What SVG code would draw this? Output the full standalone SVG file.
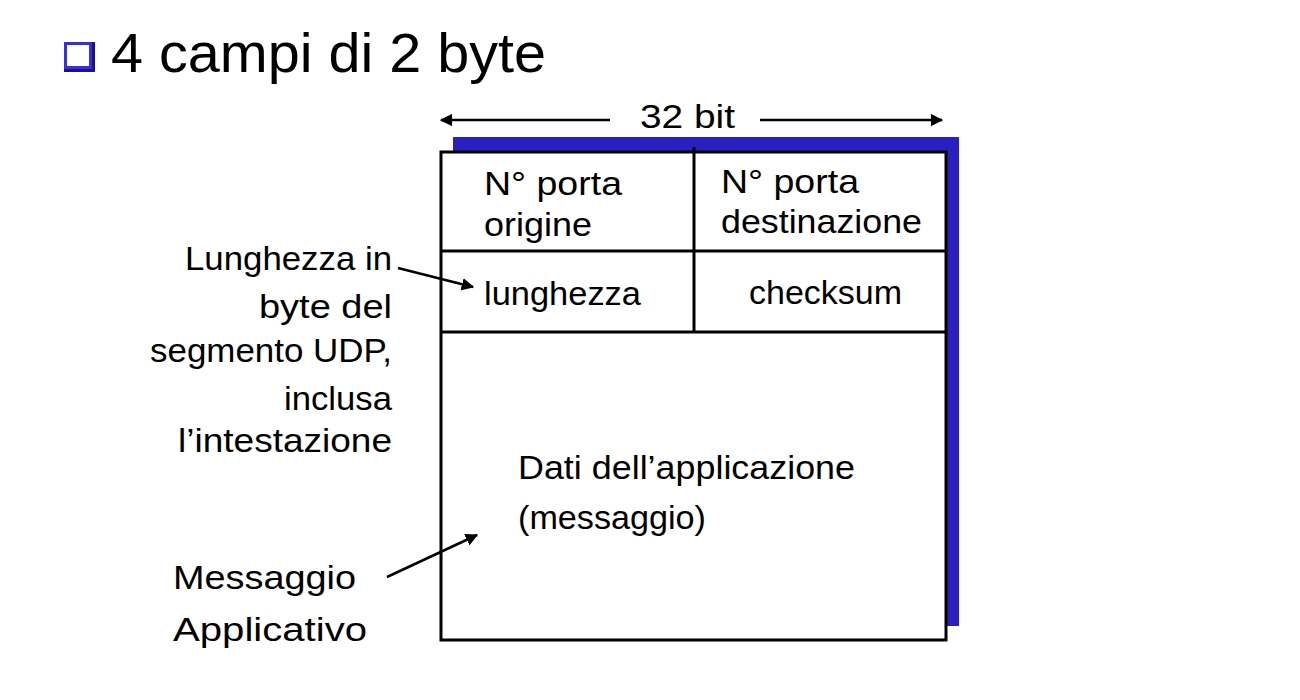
<svg xmlns="http://www.w3.org/2000/svg" width="1300" height="700" viewBox="0 0 1300 700">
<defs>
<style>
text{font-family:"Liberation Sans","DejaVu Sans",sans-serif;fill:#000;}
.t{font-size:34px;}
.r{text-anchor:end;}
.ln{stroke:#000;stroke-width:2.5;fill:none;}
.cell{stroke:#000;stroke-width:3;fill:none;}
</style>
<marker id="ah" viewBox="0 0 10 10" refX="9" refY="5" markerWidth="5" markerHeight="5" orient="auto-start-reverse" markerUnits="strokeWidth">
<path d="M0,0 L10,5 L0,10 z" fill="#000"/>
</marker>
</defs>
<rect width="1300" height="700" fill="#fff"/>
<g id="title">
<rect x="64" y="42" width="31" height="30" fill="#1a128a"/>
<rect x="64" y="42" width="28" height="27" fill="#3a30d8"/>
<rect x="67" y="45" width="22" height="21" fill="#fff"/>
<text x="111" y="72" font-size="56" textLength="435" lengthAdjust="spacingAndGlyphs">4 campi di 2 byte</text>
</g>
<g id="width-label">
<text x="640" y="128" class="t" textLength="95" lengthAdjust="spacingAndGlyphs">32 bit</text>
</g>
<g id="segment">
<rect x="453" y="137" width="506" height="489" fill="#2a1fc0"/>
<rect x="441" y="152" width="505" height="488" fill="#fff" stroke="#000" stroke-width="3"/>
<line class="cell" x1="441" y1="251" x2="946" y2="251"/>
<line class="cell" x1="441" y1="332" x2="946" y2="332"/>
<line class="cell" x1="694" y1="147" x2="694" y2="332"/>
</g>
<g id="src-port">
<text x="484" y="195" class="t" textLength="138" lengthAdjust="spacingAndGlyphs">N° porta</text>
<text x="484" y="236" class="t" textLength="108" lengthAdjust="spacingAndGlyphs">origine</text>
</g>
<g id="dst-port">
<text x="721" y="193" class="t" textLength="138" lengthAdjust="spacingAndGlyphs">N° porta</text>
<text x="721" y="233" class="t" textLength="201" lengthAdjust="spacingAndGlyphs">destinazione</text>
</g>
<g id="length">
<text x="484" y="305" class="t" textLength="157" lengthAdjust="spacingAndGlyphs">lunghezza</text>
</g>
<g id="checksum">
<text x="749" y="304" class="t" textLength="153" lengthAdjust="spacingAndGlyphs">checksum</text>
</g>
<g id="data">
<text x="518" y="479" class="t" textLength="337" lengthAdjust="spacingAndGlyphs">Dati dell’applicazione</text>
<text x="518" y="529" class="t" textLength="188" lengthAdjust="spacingAndGlyphs">(messaggio)</text>
</g>
<g id="length-note">
<text x="185" y="270" class="t" textLength="207" lengthAdjust="spacingAndGlyphs">Lunghezza in</text>
<text x="259" y="318" class="t" textLength="133" lengthAdjust="spacingAndGlyphs">byte del</text>
<text x="150" y="362" class="t" textLength="242" lengthAdjust="spacingAndGlyphs">segmento UDP,</text>
<text x="284" y="410" class="t" textLength="108" lengthAdjust="spacingAndGlyphs">inclusa</text>
<text x="178" y="452" class="t" textLength="214" lengthAdjust="spacingAndGlyphs">l’intestazione</text>
</g>
<g id="message-note">
<text x="173" y="589" class="t" textLength="183" lengthAdjust="spacingAndGlyphs">Messaggio</text>
<text x="173" y="641" class="t" textLength="194" lengthAdjust="spacingAndGlyphs">Applicativo</text>
</g>
<g id="connectors">
<line class="ln" x1="610" y1="120" x2="441" y2="120" marker-end="url(#ah)"/>
<line class="ln" x1="760" y1="120" x2="942" y2="120" marker-end="url(#ah)"/>
<line class="ln" x1="398" y1="268" x2="473" y2="287" marker-end="url(#ah)"/>
<line class="ln" x1="387" y1="577" x2="477" y2="535" marker-end="url(#ah)"/>
</g>
</svg>
